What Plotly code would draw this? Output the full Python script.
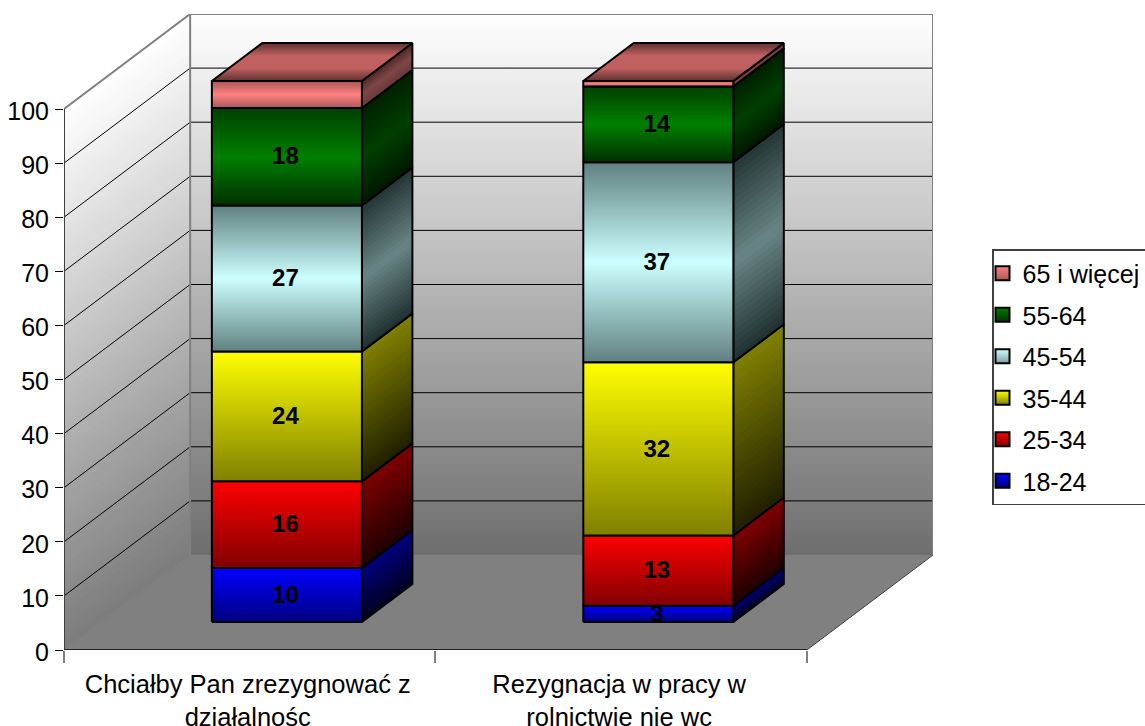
import numpy as np
import plotly.graph_objects as go

categories = ["Chciałby Pan zrezygnować z<br>działalnośc", "Rezygnacja w pracy w<br>rolnictwie nie wc"]
series_names = ["18-24", "25-34", "35-44", "45-54", "55-64", "65 i więcej"]
values_first = [10, 16, 24, 27, 18, 5]
values_second = [3, 13, 32, 37, 14, 1]
y_ticks = [0, 10, 20, 30, 40, 50, 60, 70, 80, 90, 100]
unlabelled_series = ["65 i więcej"]

front_stops = [["#0000ff", "#000080"], ["#ff0000", "#800000"], ["#ffff00", "#808000"],
               ["#608080", "#ccffff", "#608080"], ["#004000", "#008000", "#003000"],
               ["#a85858", "#ff8080", "#a85858"]]
side_stops = [["#000080", "#000020"], ["#800000", "#200000"], ["#808000", "#202000"],
              ["#253535", "#688585", "#203030"], ["#002000", "#004000", "#001800"],
              ["#502828", "#804848", "#683838"]]
top_stops = ["#5e3030", "#c06060", "#c06060", "#5e3030"]
legend_swatch = [["#0000ff", "#000080"], ["#ff0000", "#800000"], ["#ffff00", "#808000"],
                 ["#ccffff", "#80a0a0"], ["#008000", "#003000"], ["#ff8080", "#a85858"]]

PX_PER_UNIT_Y = 5.41
PX_PER_CAT = 371.0
DX = 126 / PX_PER_CAT
DY = 95 / PX_PER_UNIT_Y
D0, D1 = 28 / 95, 66 / 95
BAR_W = 0.404
LABEL_NUDGE_X, LABEL_NUDGE_Y = -0.004, -0.3


def proj(c, v, d):
    return c + d * DX, v + d * DY


def hex2rgb(h):
    return np.array([int(h[i:i + 2], 16) for i in (1, 3, 5)], float)


def mix(stops, t):
    t = t * (len(stops) - 1)
    i = min(int(t), len(stops) - 2)
    c = hex2rgb(stops[i]) * (1 - (t - i)) + hex2rgb(stops[i + 1]) * (t - i)
    return "rgb(%d,%d,%d)" % tuple(c.round())


def scale(stops):
    rev = stops[::-1]
    return [[i / (len(rev) - 1), c] for i, c in enumerate(rev)]


fig = go.Figure()
base = dict(hoverinfo="skip", showlegend=False, cliponaxis=False)


def poly(pts, fill=None, grad=None, line="rgba(0,0,0,0)", width=0):
    xs, ys = zip(*pts)
    kw = dict(x=list(xs), y=list(ys), mode="lines", line=dict(color=line, width=width), **base)
    if grad is not None:
        kw.update(fill="toself", fillcolor="rgba(0,0,0,0)",
                  fillgradient=dict(type="vertical", colorscale=scale(grad)))
    elif fill is not None:
        kw.update(fill="toself", fillcolor=fill)
    fig.add_trace(go.Scatter(**kw))


def sheared(corner, v0, v1, stops, n):
    """Receding face: each step repaints from its value down to v0, so no seams appear."""
    c0, d0, c1, d1 = corner
    for k in range(n):
        a = v1 - (v1 - v0) * k / n
        col = mix(stops, (k + 0.5) / n)
        poly([proj(c0, a, d0), proj(c1, a, d1), proj(c1, v0, d1), proj(c0, v0, d0), proj(c0, a, d0)],
             fill=col)


# walls and floor
TOP = y_ticks[-1]
cats_n = len(categories)
sheared((0, 0, 0, 1), 0, TOP, ["#ffffff", "#7c7c7c"], 70)
poly([proj(0, 0, 1), proj(cats_n, 0, 1), proj(cats_n, TOP, 1), proj(0, TOP, 1), proj(0, 0, 1)],
     grad=["#ffffff", "#6e6e6e"])
poly([proj(0, 0, 0), proj(cats_n, 0, 0), proj(cats_n, 0, 1), proj(0, 0, 1), proj(0, 0, 0)], fill="#808080")

# gridlines
gx, gy = [], []
for v in y_ticks[1:-1]:
    for p in (proj(0, v, 0), proj(0, v, 1), proj(cats_n, v, 1)):
        gx.append(p[0]); gy.append(p[1])
    gx.append(None); gy.append(None)
fig.add_trace(go.Scatter(x=gx, y=gy, mode="lines", line=dict(color="#000000", width=1), **base))

# wall edges and axes
poly([proj(0, TOP, 0), proj(0, TOP, 1), proj(cats_n, TOP, 1), proj(cats_n, 0, 1)], line="#808080", width=2)
poly([proj(0, TOP, 1), proj(0, 0, 1)], line="#808080", width=2)
poly([proj(0, 0, 0), proj(0, TOP, 0)], line="#404040", width=2)
poly([proj(cats_n, 0, 0), proj(cats_n, 0, 1)], line="#404040", width=1)
poly([proj(0, 0, 0), proj(cats_n, 0, 0)], line="#000000", width=1.5)

# bars
label_x, label_y, label_t = [], [], []
for idx, vals in enumerate([values_first, values_second]):
    left = idx + 0.5 - BAR_W / 2
    right = idx + 0.5 + BAR_W / 2
    tops = np.cumsum(vals)
    bots = tops - np.array(vals)
    for s, (v0, v1) in enumerate(zip(bots, tops)):
        v0, v1 = float(v0), float(v1)
        sheared((right, D0, right, D1), v0, v1, side_stops[s], 32)
        poly([proj(right, v0, D0), proj(right, v0, D1), proj(right, v1, D1), proj(right, v1, D0),
              proj(right, v0, D0)], line="#000000", width=2)
        poly([proj(left, v0, D0), proj(right, v0, D0), proj(right, v1, D0), proj(left, v1, D0),
              proj(left, v0, D0)], grad=front_stops[s], line="#000000", width=2)
        lx, ly = proj((left + right) / 2, (v0 + v1) / 2, D0)
        if series_names[s] not in unlabelled_series:
            label_x.append(lx + LABEL_NUDGE_X); label_y.append(ly + LABEL_NUDGE_Y); label_t.append(str(vals[s]))
    t = float(tops[-1])
    poly([proj(left, t, D0), proj(right, t, D0), proj(right, t, D1), proj(left, t, D1), proj(left, t, D0)],
         grad=top_stops, line="#000000", width=2)

fig.add_trace(go.Scatter(x=label_x, y=label_y, text=label_t, mode="text", textposition="middle center",
                         textfont=dict(family="Liberation Sans", size=24, color="#000000", weight="bold"), **base))

# legend entries
for s, name in enumerate(series_names):
    fig.add_trace(go.Scatter(
        x=[-5], y=[-5], mode="markers", name=name, legendgroup=name, legendrank=100 - s,
        hoverinfo="skip", cliponaxis=True,
        marker=dict(symbol="square", size=14, color=legend_swatch[s][0],
                    gradient=dict(type="vertical", color=legend_swatch[s][1]),
                    line=dict(color="#000000", width=2))))

X_END = cats_n + DX
Y_END = 636 / PX_PER_UNIT_Y
font = dict(family="Liberation Sans", size=25, color="#000000")
fig.update_layout(
    width=1145, height=726, paper_bgcolor="#ffffff", plot_bgcolor="rgba(0,0,0,0)",
    margin=dict(l=64, r=212, t=14, b=76, autoexpand=False),
    font=font,
    xaxis=dict(range=[0, X_END], showgrid=False, zeroline=False, showline=False,
               tickmode="array", tickvals=[i + 0.5 for i in range(cats_n)], ticktext=categories,
               ticks="outside", ticklen=11, tickcolor="rgba(0,0,0,0)", tickangle=0,
               tickfont=dict(family="Liberation Sans", size=25.5, color="#000000"), ticklabelshift=-2,
               minor=dict(tickmode="array", tickvals=list(range(cats_n + 1)), ticks="outside",
                          ticklen=12, tickwidth=2, tickcolor="#808080", showgrid=False)),
    yaxis=dict(range=[0, Y_END], showgrid=False, zeroline=False, showline=False,
               tickmode="array", tickvals=y_ticks, ticks="outside", ticklen=8, tickwidth=1,
               tickcolor="#000000", tickfont=font, ticklabelshift=2, ticklabelstandoff=1),
    legend=dict(x=(992 - 64) / 869, xanchor="left", y=(650 - 249) / 636, yanchor="top",
                bgcolor="#ffffff", bordercolor="#404040", borderwidth=1.5, font=font,
                traceorder="grouped", tracegroupgap=6, itemwidth=30, indentation=-11,
                itemclick=False, itemdoubleclick=False),
)
fig.write_html("out.html", config=dict(displayModeBar=False),
               post_script="document.body.style.margin='0';document.body.style.overflow='hidden';")
